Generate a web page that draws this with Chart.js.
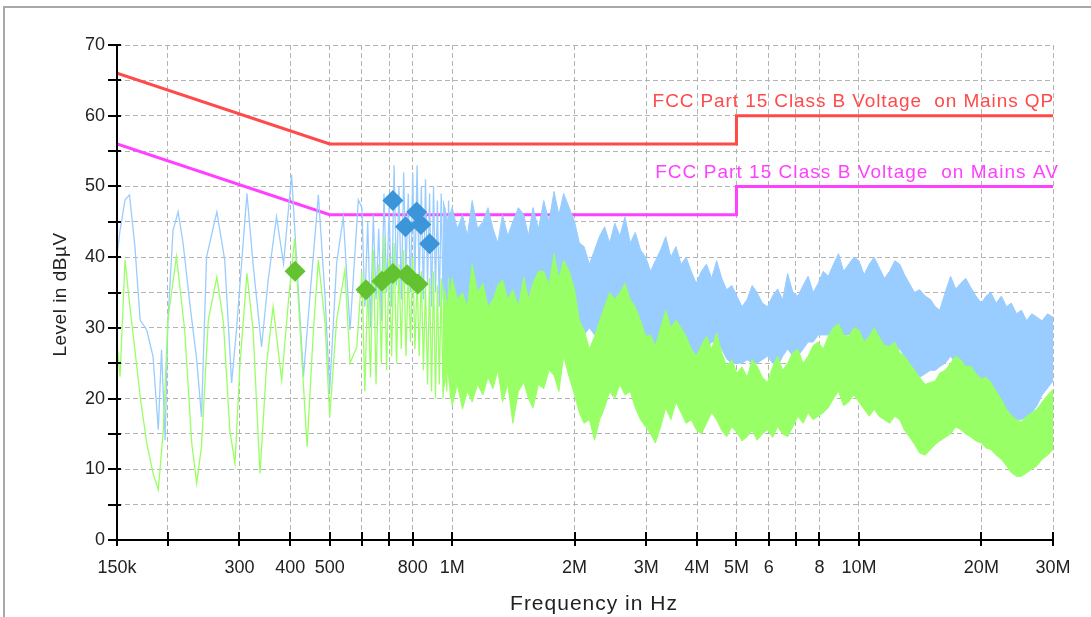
<!DOCTYPE html>
<html>
<head>
<meta charset="utf-8">
<script src="https://cdn.jsdelivr.net/npm/chart.js@4.4.0/dist/chart.umd.min.js"></script>
<style>
  html, body { margin: 0; padding: 0; background: #fff; }
  #wrap { position: relative; width: 1091px; height: 617px; overflow: hidden; }
  #frame { position: absolute; left: 3px; top: 6px; width: 1100px; height: 640px; border: 2px solid #a8a8a8; box-sizing: border-box; }
  #mycanvas { position: absolute; left: 0; top: 0; }
</style>
</head>
<body>
<div id="wrap">
  <div id="frame"></div>
  <canvas id="mycanvas" width="1091" height="617"></canvas>
</div>
<script>
// frequencies in MHz, levels in dBµV

// limit lines
var limitFreq = [0.15, 0.5, 5, 5, 30];
var qpLimit = [66, 56, 56, 60, 60];
var avLimit = [56, 46, 46, 50, 50];

// final measurement points
var qpFreq = [0.715, 0.768, 0.818, 0.838, 0.88];
var qpLevel = [48.0, 44.3, 46.4, 44.6, 41.9];
var avFreq = [0.411, 0.614, 0.672, 0.715, 0.775, 0.824];
var avLevel = [38.0, 35.4, 36.6, 37.7, 37.5, 36.2];

// peak scan, low frequency part (single trace)
var blueLowFreq = [0.150, 0.1526, 0.157, 0.161, 0.166, 0.171, 0.1775, 0.184, 0.1895, 0.193, 0.197, 0.200,
  0.206, 0.212, 0.218, 0.227, 0.2355, 0.242, 0.249, 0.264, 0.276, 0.287, 0.295, 0.313, 0.324, 0.340,
  0.353, 0.370, 0.385, 0.403, 0.415, 0.431, 0.447, 0.469, 0.487, 0.500, 0.520, 0.540, 0.561, 0.588,
  0.60, 0.61, 0.62, 0.63, 0.64, 0.65, 0.66, 0.67, 0.68, 0.69, 0.70, 0.71, 0.72, 0.73, 0.74, 0.75,
  0.76, 0.77, 0.78, 0.79, 0.80, 0.81, 0.82, 0.83, 0.84, 0.85, 0.86, 0.87, 0.88, 0.89, 0.90, 0.91,
  0.92, 0.93, 0.94, 0.95, 0.96, 0.97, 0.98, 0.99];
var blueLowLevel = [40.1, 43.8, 48.1, 48.8, 41.5, 31.1, 29.7, 25.9, 15.6, 26.9, 14.1, 30.7,
  43.8, 46.4, 42, 33, 25.5, 17.4, 40, 46.4, 39.6, 22.2, 29.7, 49, 39.1, 27.3,
  36.8, 45.7, 39.1, 51.6, 39.1, 23.1, 34.4, 48.8, 34.4, 21.2, 39.1, 45.7, 29.7, 48.1,
  47, 33, 45, 30, 46, 34, 44, 31, 49, 35, 47, 33, 53, 36, 50, 34,
  52, 38, 49, 35, 52, 37, 53, 36, 50, 34, 51, 36, 49, 33, 50, 35,
  48, 33, 49, 34, 47, 32, 48, 33];

// average scan, low frequency part (single trace)
var greenLowFreq = [0.150, 0.1526, 0.157, 0.161, 0.166, 0.171, 0.1775, 0.184, 0.1895, 0.195, 0.200,
  0.210, 0.220, 0.229, 0.2355, 0.242, 0.2515, 0.264, 0.274, 0.284, 0.2925, 0.301, 0.313, 0.324,
  0.337, 0.350, 0.363, 0.381, 0.3955, 0.410, 0.423, 0.440, 0.456, 0.469, 0.487, 0.500, 0.520,
  0.545, 0.561, 0.583,
  0.60, 0.61, 0.62, 0.63, 0.64, 0.65, 0.66, 0.67, 0.68, 0.69, 0.70, 0.71, 0.72, 0.73, 0.74, 0.75,
  0.76, 0.77, 0.78, 0.79, 0.80, 0.81, 0.82, 0.83, 0.84, 0.85, 0.86, 0.87, 0.88, 0.89, 0.90, 0.91,
  0.92, 0.93, 0.94, 0.95, 0.96, 0.97, 0.98, 0.99];
var greenLowLevel = [27.8, 23.1, 39.6, 33.5, 26.9, 20.3, 13.7, 9.4, 7.1, 15.6, 31.1,
  40.1, 29.7, 13.7, 8, 13.2, 31.1, 37.2, 30.7, 15.6, 10.8, 25, 37.7, 29.7,
  9.4, 25, 33, 22.6, 33.5, 42.7, 29.7, 13.2, 29.7, 39.6, 30.7, 17.4, 31.1,
  38.2, 25, 27.3,
  38, 21, 36, 23, 41, 22, 39, 25, 43, 24, 40, 26, 42, 25, 39, 27,
  41, 26, 38, 28, 40, 27, 37, 26, 38, 24, 36, 22, 37, 21, 38, 20,
  36, 22, 37, 20, 35, 21, 37, 20];

// high frequency part: the scans are dense here, kept as top / bottom of each band
var bandFreq = [0.95, 0.975, 1.00, 1.03, 1.06, 1.09, 1.12, 1.155, 1.19, 1.225,
  1.26, 1.295, 1.33, 1.37, 1.41, 1.455, 1.50, 1.54, 1.58, 1.63,
  1.68, 1.73, 1.78, 1.83, 1.88, 1.94, 2.00, 2.055, 2.11, 2.175,
  2.24, 2.305, 2.37, 2.44, 2.51, 2.585, 2.66, 2.74, 2.82, 2.905,
  2.99, 3.075, 3.16, 3.255, 3.35, 3.45, 3.55, 3.655, 3.76, 3.87,
  3.98, 4.10, 4.22, 4.345, 4.47, 4.60, 4.73, 4.87, 5.01, 5.16,
  5.31, 5.465, 5.62, 5.79, 5.96, 6.135, 6.31, 6.495, 6.68, 6.88,
  7.08, 7.29, 7.50, 7.72, 7.94, 8.17, 8.41, 8.66, 8.91, 9.17,
  9.44, 9.72, 10.0, 10.3, 10.6, 10.9, 11.2, 11.55, 11.9, 12.25,
  12.6, 12.95, 13.3, 13.7, 14.1, 14.55, 15.0, 15.4, 15.8, 16.3,
  16.8, 17.3, 17.8, 18.3, 18.8, 19.4, 20.0, 20.55, 21.1, 21.75,
  22.4, 23.05, 23.7, 24.4, 25.1, 25.85, 26.6, 27.4, 28.2, 29.1,
  30.0];
var blueTop = [48, 45, 47, 44, 46, 43, 48, 44, 45, 47,
  44, 42, 46, 43, 45, 47, 46, 43, 47, 44,
  48, 45, 49.3, 46, 49, 47, 45, 42, 41.5, 39,
  41, 43, 44.3, 42, 44.8, 43, 45.7, 42, 43.5, 41,
  40, 38, 39.5, 41, 42.9, 40, 41.5, 39, 40, 38,
  36.3, 38, 39, 37, 39.5, 37, 35.4, 36, 34.5, 33,
  34, 36, 35, 33.5, 33, 34.5, 35.5, 34, 37.7, 35,
  34.5, 36, 37.3, 35, 36.3, 38, 37.3, 39, 40.5, 38,
  39, 40, 39.5, 37.5, 39, 40, 38.6, 37, 38, 39.5,
  39, 37.5, 36.3, 35, 35.4, 34.5, 34, 33, 32.5, 35,
  37.3, 35.5, 36.3, 37, 35.8, 34.5, 33.5, 34.5, 35, 33.5,
  34.5, 33, 33.5, 32, 32.5, 31, 32, 31.5, 31, 32,
  31.5];
var blueBottom = [28, 30, 29, 30, 27, 29, 29, 30, 28, 30,
  30, 29, 28, 30, 27, 29, 29, 29, 28, 30,
  29, 30, 30, 31, 31, 32, 33, 31, 29, 30,
  29, 30, 30, 30, 30, 30, 30, 30, 29, 29,
  28, 27, 27, 28, 29, 29, 29, 29, 28.8, 27,
  26, 27, 27, 28, 28, 27, 25.6, 25, 25, 25,
  25.5, 25, 25, 25.5, 26, 25, 24.5, 26, 27, 26,
  26, 27, 28, 28, 29, 29, 29, 30, 30, 29,
  29, 29, 29, 28, 28, 28, 28, 27, 27, 27,
  27, 26, 25, 24, 23, 23.5, 24, 24, 24.5, 25,
  26, 25, 25, 24, 23, 22.5, 22, 21.5, 21, 20,
  19.4, 18, 17.3, 17, 17, 17.5, 18, 19, 20.5, 21.5,
  22.5];
var greenTop = [36, 33, 37, 34, 35, 33, 39, 35, 36.3, 33,
  34, 36, 36.8, 34, 35.4, 33, 37.2, 34, 36.3, 38,
  38, 36, 40.5, 37, 39.6, 38, 35.4, 31, 29.7, 27,
  28.8, 31, 33, 35, 34, 35, 36.3, 34, 33, 31,
  28.8, 29, 27.4, 30, 32.5, 30, 31.1, 30, 28.8, 27,
  26, 27.5, 28.8, 27, 29.3, 26.5, 24.6, 25.5, 23.6, 24.5,
  23, 25.5, 24.6, 23, 22.3, 24.5, 26, 24, 25, 26.5,
  27, 25, 26, 27.5, 28, 27, 28.8, 30, 30.6, 29,
  28.8, 30, 29.7, 28, 28.8, 30, 28.8, 27.5, 27.4, 28,
  26.5, 26, 25, 24, 23, 22, 22.3, 22.5, 23.6, 24,
  25, 26, 25.5, 24.5, 24.6, 23.5, 22.8, 23, 22.3, 21,
  19.9, 18.5, 17.6, 17, 16.7, 17.5, 18, 18.5, 19.5, 20.5,
  21.3];
var greenBottom = [21, 24, 19, 22, 18.5, 21, 19.5, 22, 20.5, 23,
  21.4, 24, 19.5, 22, 16.5, 21, 22.3, 20, 18.7, 22,
  21.4, 24, 23.3, 21, 26, 23, 20.5, 18, 16.5, 17,
  14.1, 17, 18.7, 21, 20, 22, 20.5, 21, 18.7, 17,
  16, 15, 13.7, 16, 18.7, 17, 19.5, 18, 16.5, 17,
  15.6, 15, 16.5, 18, 17, 15.5, 14.6, 16, 15.2, 14,
  14.6, 15.5, 14.1, 15, 15.6, 14.5, 16, 15, 14.6, 16,
  17.5, 16.5, 18, 17, 17.5, 18, 18.7, 20, 21, 19,
  19.5, 20.5, 19.5, 18.5, 17.5, 18.5, 17.5, 17, 16.5, 17.5,
  17, 15.5, 14.6, 13.5, 12.3, 12, 12.8, 13.5, 14, 14.5,
  15, 16, 15.6, 15, 14.6, 14, 13.7, 13, 12.8, 12,
  11.4, 10.5, 9.5, 9, 9, 9.5, 10, 10.5, 11.4, 12,
  12.8];

// axis ticks
var xTickValues = [0.15, 0.2, 0.3, 0.4, 0.5, 0.6, 0.7, 0.8, 1, 2, 3, 4, 5, 6, 7, 8, 10, 20, 30];
var xTickLabels = ['150k', '', '300', '400', '500', '', '', '800', '1M', '2M', '3M', '4M', '5M', '6', '', '8', '10M', '20M', '30M'];
var yTickValues = [0, 5, 10, 15, 20, 25, 30, 35, 40, 45, 50, 55, 60, 65, 70];

var qpText = 'FCC Part 15 Class B Voltage  on Mains QP';
var avText = 'FCC Part 15 Class B Voltage  on Mains AV';
var xTitle = 'Frequency in Hz';
var yTitle = 'Level in dBµV';

var FONT = '"Liberation Sans", Arial, sans-serif';

function pts(xs, ys) {
  var out = [];
  for (var i = 0; i < xs.length; i++) out.push({x: xs[i], y: ys[i]});
  return out;
}

var decorations = {
  id: 'decorations',
  afterDraw: function(chart) {
    var ctx = chart.ctx, a = chart.chartArea, xs = chart.scales.x, ys = chart.scales.y;
    ctx.save();
    // axis lines
    ctx.strokeStyle = '#000';
    ctx.lineWidth = 2;
    ctx.beginPath();
    ctx.moveTo(a.left, a.top - 1);
    ctx.lineTo(a.left, a.bottom);
    ctx.lineTo(a.right + 1, a.bottom);
    ctx.stroke();
    // tick marks crossing the axes
    ctx.beginPath();
    xTickValues.forEach(function(v) {
      var px = Math.round(xs.getPixelForValue(v));
      ctx.moveTo(px, a.bottom - 8);
      ctx.lineTo(px, a.bottom + 6);
    });
    yTickValues.forEach(function(v) {
      var py = Math.round(ys.getPixelForValue(v));
      ctx.moveTo(a.left - 9, py);
      ctx.lineTo(a.left + 4, py);
    });
    ctx.stroke();

    // limit line labels
    ctx.font = '19px ' + FONT;
    ctx.textAlign = 'right';
    ctx.textBaseline = 'bottom';
    ctx.letterSpacing = '0.9px';
    ctx.fillStyle = '#ff4a4a';
    ctx.fillText(qpText, xs.getPixelForValue(30) + 1, ys.getPixelForValue(60) - 4);
    ctx.letterSpacing = '1.05px';
    ctx.fillStyle = '#ff40ff';
    ctx.fillText(avText, xs.getPixelForValue(30) + 6, ys.getPixelForValue(50) - 4);

    // axis titles
    ctx.letterSpacing = '1px';
    ctx.fillStyle = '#222';
    ctx.textAlign = 'center';
    ctx.textBaseline = 'middle';
    ctx.font = '21px ' + FONT;
    ctx.fillText(xTitle, (a.left + a.right) / 2 + 9, 604);
    ctx.letterSpacing = '0.5px';
    ctx.translate(61, (a.top + a.bottom) / 2 + 2);
    ctx.rotate(-Math.PI / 2);
    ctx.font = '19px ' + FONT;
    ctx.fillText(yTitle, 0, 0);
    ctx.restore();
  }
};

var datasets = [
  {label: 'QP', data: pts(qpFreq, qpLevel), showLine: false, pointStyle: 'rectRot',
   pointRadius: 10.5, backgroundColor: '#3c95d8', borderWidth: 0, order: 0},
  {label: 'AV', data: pts(avFreq, avLevel), showLine: false, pointStyle: 'rectRot',
   pointRadius: 10.5, backgroundColor: '#62c22f', borderWidth: 0, order: 0},
  {label: 'green low', data: pts(greenLowFreq, greenLowLevel), borderColor: '#99ff66', borderWidth: 1.3, order: 1},
  {label: 'green top', data: pts(bandFreq, greenTop), borderColor: '#99ff66', borderWidth: 1,
   fill: '+1', backgroundColor: '#99ff66', order: 1},
  {label: 'green bottom', data: pts(bandFreq, greenBottom), borderColor: '#99ff66', borderWidth: 1, order: 1},
  {label: 'blue low', data: pts(blueLowFreq, blueLowLevel), borderColor: '#99ccff', borderWidth: 1.3, order: 2},
  {label: 'blue top', data: pts(bandFreq, blueTop), borderColor: '#99ccff', borderWidth: 1,
   fill: '+1', backgroundColor: '#99ccff', order: 2},
  {label: 'blue bottom', data: pts(bandFreq, blueBottom), borderColor: '#99ccff', borderWidth: 1, order: 2},
  {label: 'QP limit', data: pts(limitFreq, qpLimit), borderColor: '#ff4a4a', borderWidth: 3, order: 3},
  {label: 'AV limit', data: pts(limitFreq, avLimit), borderColor: '#ff40ff', borderWidth: 3, order: 3}
];

var chart = new Chart(document.getElementById('mycanvas'), {
  type: 'line',
  data: {datasets: datasets},
  options: {
    responsive: false,
    animation: false,
    layout: {padding: {top: 45, right: 38, left: 0, bottom: 0}},
    elements: {point: {radius: 0}, line: {tension: 0}},
    plugins: {legend: {display: false}, tooltip: {enabled: false}},
    scales: {
      x: {
        type: 'logarithmic', min: 0.15, max: 30,
        afterBuildTicks: function(s) { s.ticks = xTickValues.map(function(v) { return {value: v}; }); },
        afterFit: function(s) { s.height = 77; },
        ticks: {autoSkip: false, maxRotation: 0, padding: 17, color: '#222',
                font: {family: FONT, size: 18},
                callback: function(v, i) { return xTickLabels[i]; }},
        grid: {color: '#b4b4b4', lineWidth: 1, drawTicks: false},
        border: {display: false, dash: [5, 3]}
      },
      y: {
        min: 0, max: 70,
        afterBuildTicks: function(s) { s.ticks = yTickValues.map(function(v) { return {value: v}; }); },
        afterFit: function(s) { s.width = 117; },
        ticks: {padding: 12, color: '#222', font: {family: FONT, size: 18},
                callback: function(v) { return v % 10 === 0 ? String(v) : ''; }},
        grid: {color: '#b4b4b4', lineWidth: 1, drawTicks: false},
        border: {display: false, dash: [5, 3]}
      }
    }
  },
  plugins: [decorations]
});
</script>
</body>
</html>
